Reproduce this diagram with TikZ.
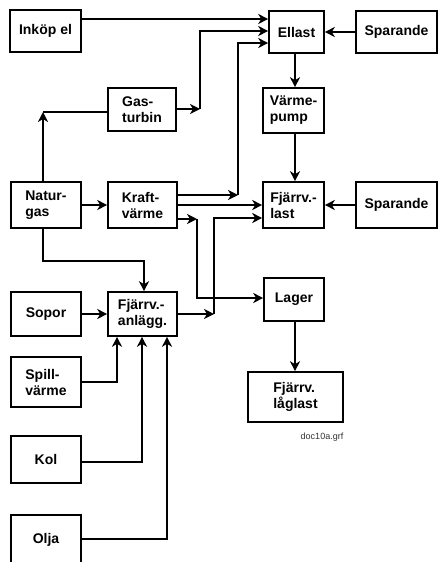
\documentclass[tikz,border=0pt]{standalone}
\usepackage{fontspec}
\setmainfont{Liberation Sans}
\usetikzlibrary{arrows.meta}

\begin{document}
\begin{tikzpicture}[x=1pt,y=-1pt,
    blk/.style={draw, line width=1.6pt, inner sep=0pt, align=left,
        font=\fontsize{14}{16}\selectfont\bfseries},
    arr/.style={line width=1.6pt, -{Stealth[length=10pt,width=10pt,inset=3pt]}},
    ln/.style={line width=1.6pt}]
        \useasboundingbox (0,0) rectangle (438,562);

        % sources, left column
        \node[blk, minimum width=71pt, minimum height=42pt] (inkop) at (45.5,31) {Inköp el};
        \node[blk, minimum width=70pt, minimum height=46pt] (natur) at (46,205) {Natur-\\gas};
        \node[blk, minimum width=70pt, minimum height=44pt] (sopor) at (46,314) {Sopor};
        \node[blk, minimum width=70pt, minimum height=50pt] (spill) at (46,382) {Spill-\\värme};
        \node[blk, minimum width=70pt, minimum height=47pt] (kol) at (46,459.5) {Kol};
        \node[blk, minimum width=70pt, minimum height=50pt] (olja) at (46,540) {Olja};

        % conversion
        \node[blk, minimum width=68pt, minimum height=43pt] (gasturb) at (142,109.5) {Gas-\\turbin};
        \node[blk, minimum width=69pt, minimum height=46pt] (kraft) at (142.5,205) {Kraft-\\värme};
        \node[blk, minimum width=69pt, minimum height=44pt] (anlagg) at (142.5,314) {Fjärrv.-\\anlägg.};

        % loads
        \node[blk, minimum width=55pt, minimum height=42pt] (ellast) at (296.5,32) {Ellast};
        \node[blk, minimum width=61pt, minimum height=45pt] (vpump) at (293.5,110.5) {Värme-\\pump};
        \node[blk, minimum width=61pt, minimum height=46pt] (fjlast) at (293.5,205) {Fjärrv.-\\last};
        \node[blk, minimum width=60pt, minimum height=43pt] (lager) at (294,299.5) {Lager};
        \node[blk, minimum width=95pt, minimum height=50pt] (laglast) at (295.5,397) {Fjärrv.\\låglast};
        \node[blk, minimum width=81pt, minimum height=42pt] (spar1) at (396.5,32) {Sparande};
        \node[blk, minimum width=81pt, minimum height=46pt] (spar2) at (396.5,205) {Sparande};

        \node[font=\fontsize{9}{10}\selectfont, text=black!80] (fname) at (322,437) {doc10a.grf};

        % bends
        \coordinate (gknee) at (200,109);
        \coordinate (kknee) at (238,195);
        \coordinate (lknee) at (197,219);
        \coordinate (aknee) at (214,314);
        \coordinate (nknee) at (43,112);

        % to Ellast
        \draw[arr] (inkop.east |- 0,19) -- (ellast.west |- 0,19);
        \draw[arr] (gasturb.east |- gknee) -- (gknee);
        \draw[arr] (gknee) |- (ellast.west |- 0,31);
        \draw[arr] (kraft.east |- kknee) -- (kknee);
        \draw[arr] (kknee) |- (ellast.west |- 0,43);
        \draw[arr] (spar1.west) -- (ellast.east);

        % Ellast and Fjärrv.-last
        \draw[arr] (ellast.south -| 295,0) -- (vpump.north -| 295,0);
        \draw[arr] (vpump.south -| 295,0) -- (fjlast.north -| 295,0);
        \draw[arr] (kraft.east) -- (fjlast.west);
        \draw[arr] (spar2.west) -- (fjlast.east);
        \draw[arr] (kraft.east |- lknee) -- (lknee);
        \draw[arr] (lknee) |- (lager.west |- 0,298);
        \draw[arr] (anlagg.east) -- (aknee);
        \draw[arr] (aknee) |- (fjlast.west |- 0,218);
        \draw[arr] (lager.south -| 295,0) -- (laglast.north -| 295,0);

        % natural gas
        \draw[arr] (natur.north -| nknee) -- (nknee);
        \draw[ln] (nknee) -- (gasturb.west |- nknee);
        \draw[arr] (natur.east) -- (kraft.west);
        \draw[arr] (natur.south -| nknee) -- (nknee |- 0,261) -| (anlagg.north -| 144,0);

        % fuels to Fjärrv.-anlägg.
        \draw[arr] (sopor.east) -- (anlagg.west);
        \draw[arr] (spill.east) -| (anlagg.south -| 117,0);
        \draw[arr] (kol.east |- 0,462) -| (anlagg.south -| 142,0);
        \draw[arr] (olja.east |- 0,539) -| (anlagg.south -| 167,0);
\end{tikzpicture}
\end{document}
